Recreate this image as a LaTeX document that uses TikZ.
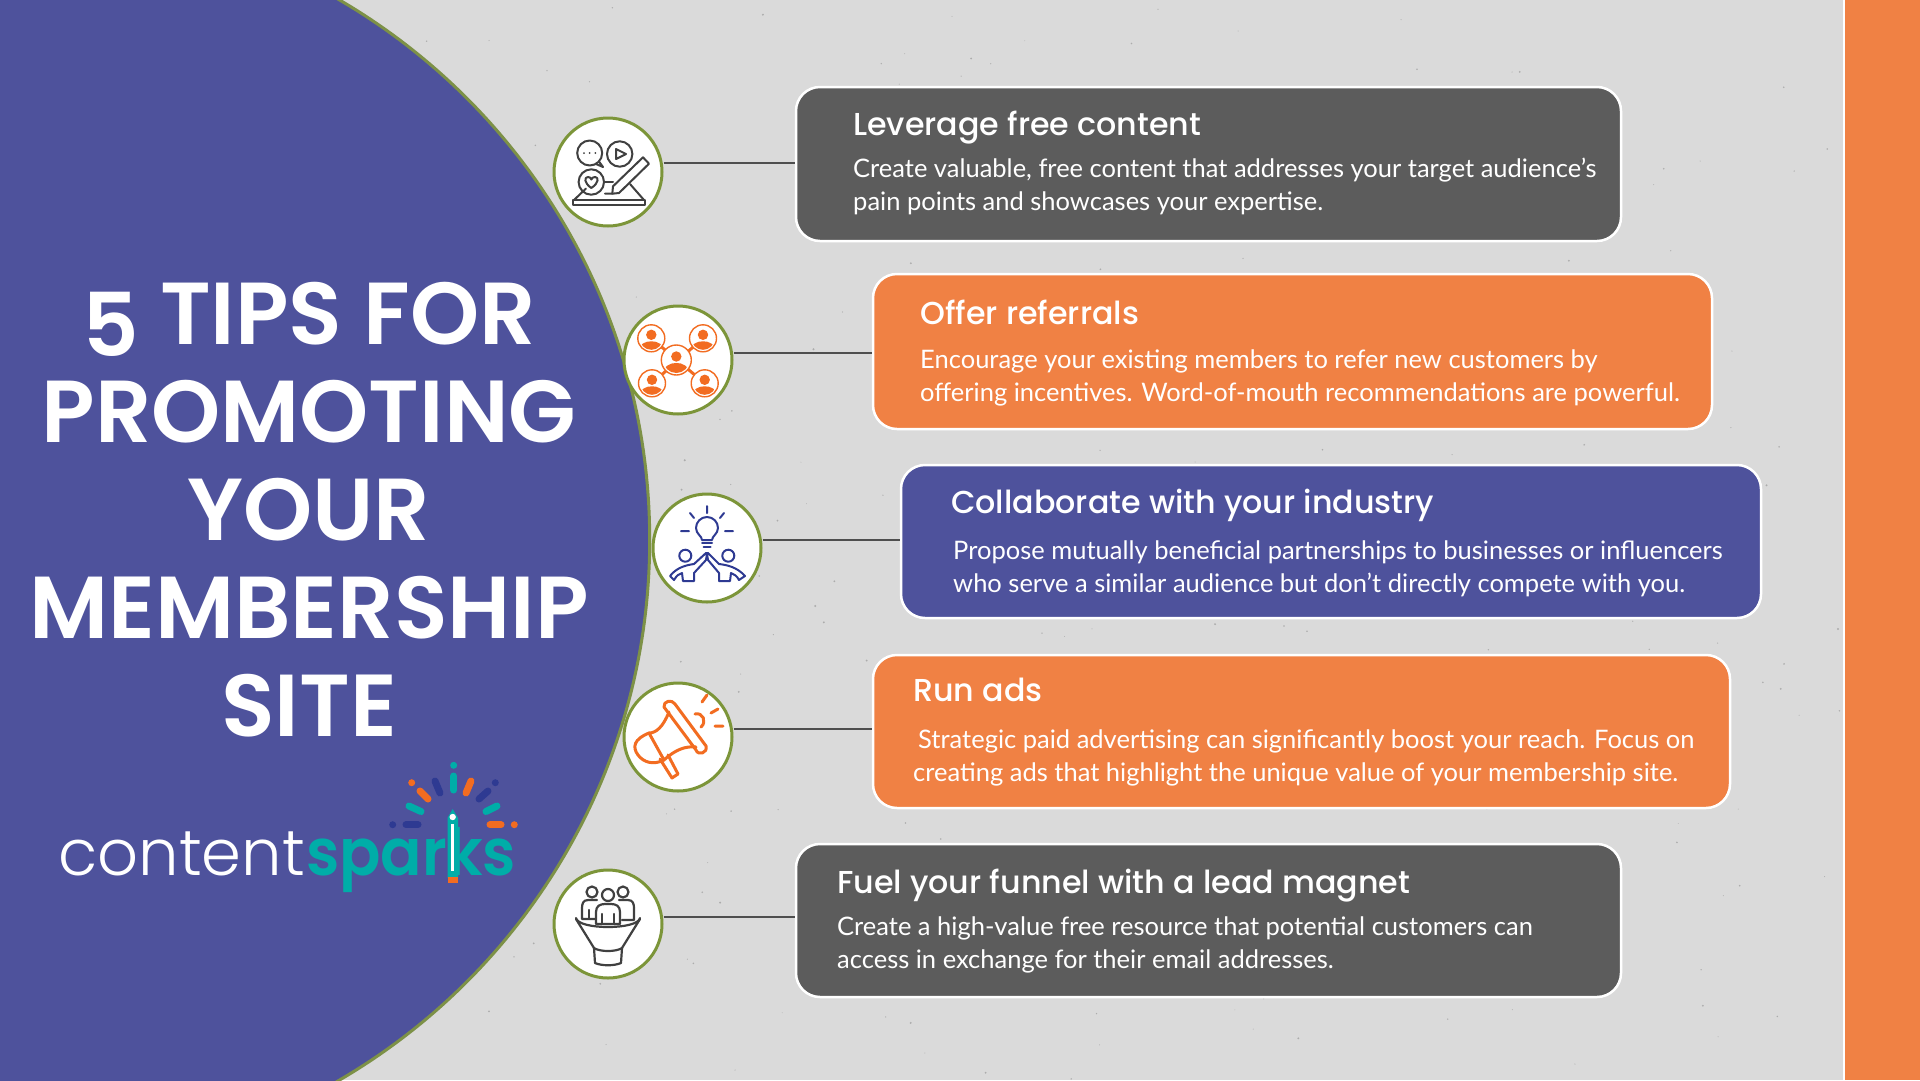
\documentclass[tikz,border=0pt]{standalone}
\usepackage{fontspec}
\setmainfont{Lato}
\newfontfamily\titlefont{Poppins SemiBold}
\newfontfamily\headfont{Poppins Medium}
\newfontfamily\logofont{Poppins Light}
\newfontfamily\sparkfont{Poppins SemiBold}
\definecolor{paper}{HTML}{DADADA}
\definecolor{violet}{HTML}{4E529C}
\definecolor{tangerine}{HTML}{F08144}
\definecolor{slate}{HTML}{5C5C5C}
\definecolor{moss}{HTML}{7C9539}
\definecolor{navy}{HTML}{2E3A92}
\definecolor{flame}{HTML}{F26C21}
\definecolor{ink}{HTML}{404040}
\definecolor{teal}{HTML}{00ADA8}
\tikzset{
  tipbox/.style={draw=white,line width=2.5pt,rounded corners=24pt,inner sep=0pt},
  iconring/.style={circle,draw=moss,fill=white,line width=3pt,minimum size=108pt,inner sep=0pt},
  stem/.style={draw=slate!85!black,line width=2pt},
  tiphead/.style={anchor=base west,text=white,inner sep=0pt,font=\headfont\fontsize{31.7}{32}\selectfont},
  tipbody/.style={anchor=base west,text=white,inner sep=0pt,align=left,font=\fontsize{25.5}{33}\selectfont},
  glyph/.style={line width=2pt,line cap=round,line join=round},
  spark/.style={line cap=round,line width=7pt},
}
\newcommand{\avatar}[3]{%
  \begin{scope}[shift={(#1,#2)}]
    \draw[flame,fill=white,line width=1.4pt] (0,0) circle[radius=#3];
    \begin{scope}
      \clip (0,0) circle[radius=#3-2];
      \fill[flame] (0,-3.5) circle[radius=5.2];
      \fill[flame] (-15,16) .. controls (-12,5) and (-6,3) .. (0,3) .. controls (6,3) and (12,5) .. (15,16) -- cycle;
    \end{scope}
  \end{scope}}
\begin{document}
\begin{tikzpicture}[x=1pt,y=-1pt]
  \useasboundingbox (0,0) rectangle (1920,1080);
  \fill[paper] (0,0) rectangle (1920,1080);
  \pgfmathsetseed{7}
  \foreach \i in {1,...,300}
    \fill[black!50,opacity=0.5] (340+rnd*1500,rnd*1080) circle[radius=0.4+rnd*0.7];

  % side band
  \fill[white] (1843,0) rectangle (1846,1080);
  \fill[tangerine] (1845,0) rectangle (1920,1080);

  % big disc
  \draw[fill=violet,draw=moss!80!gray,line width=3pt] (24.7,540) circle[radius=625];

  \node[anchor=base,text=white,inner sep=0pt,align=center,font=\titlefont\fontsize{88}{98}\selectfont] (title) at (309,736)
    {\raisebox{-12pt}{5} TIPS FOR\\PROMOTING\\YOUR\\MEMBERSHIP\\SITE};

  % logo
  \node[anchor=base west,text=white,inner sep=0pt,font=\logofont\fontsize{64}{64}\selectfont] (word) at (58,875) {content};
  \node[anchor=base west,text=teal,inner sep=0pt,xscale=0.94,font=\sparkfont\fontsize{65}{65}\selectfont] (sparks) at (306,875) {sparks};

  % boxes
  \node[tipbox,fill=slate,minimum width=825pt,minimum height=154pt] (box1) at (1208.5,164) {};
  \node[tipbox,fill=tangerine,minimum width=839pt,minimum height=155pt] (box2) at (1292.5,351.5) {};
  \node[tipbox,fill=violet,minimum width=860pt,minimum height=153pt] (box3) at (1331,541.5) {};
  \node[tipbox,fill=tangerine,minimum width=857pt,minimum height=153pt] (box4) at (1301.5,731.5) {};
  \node[tipbox,fill=slate,minimum width=825pt,minimum height=153pt] (box5) at (1208.5,920.5) {};

  \node[iconring] (icon1) at (608,172) {};
  \node[iconring] (icon2) at (678,360) {};
  \node[iconring] (icon3) at (707,548) {};
  \node[iconring] (icon4) at (678,737) {};
  \node[iconring] (icon5) at (608,924) {};

  \coordinate (port1) at ([yshift=1pt]box1.west);
  \coordinate (port2) at ([yshift=-1.5pt]box2.west);
  \coordinate (port3) at ([yshift=1.5pt]box3.west);
  \coordinate (port4) at ([yshift=2.5pt]box4.west);
  \coordinate (port5) at ([yshift=3.5pt]box5.west);
  \draw[stem] (icon1.east |- port1) -- (port1);
  \draw[stem] (icon2.east |- port2) -- (port2);
  \draw[stem] (icon3.east |- port3) -- (port3);
  \draw[stem] (icon4.east |- port4) -- (port4);
  \draw[stem] (icon5.east |- port5) -- (port5);

  % texts
  \node[tiphead] (head1) at (853,135) {Leverage free content};
  \node[tipbody] (body1) at (853,210) {Create valuable, free content that addresses your target audience's\\pain points and showcases your expertise.};
  \node[tiphead] (head2) at (920,324) {Offer referrals};
  \node[tipbody] (body2) at (920,401) {Encourage your existing members to refer new customers by\\offering incentives. Word-of-mouth recommendations are powerful.};
  \node[tiphead] (head3) at (951,513) {Collaborate with your industry};
  \node[tipbody] (body3) at (953,592) {Propose mutually beneficial partnerships to businesses or influencers\\who serve a similar audience but don't directly compete with you.};
  \node[tiphead] (head4) at (913,701) {Run ads};
  \node[tipbody] (body4) at (918,748) {Strategic paid advertising can significantly boost your reach. Focus on};
  \node[tipbody] (body4b) at (913,781) {creating ads that highlight the unique value of your membership site.};
  \node[tiphead] (head5) at (837,893) {Fuel your funnel with a lead magnet};
  \node[tipbody] (body5) at (837,968) {Create a high-value free resource that potential customers can\\access in exchange for their email addresses.};

  % icon 1
  \begin{scope}[shift={(icon1.center)},glyph,ink]
    \draw (-18.3,-19) circle[radius=12.5];
    \draw (-9,-10.5) -- (-5,-5) -- (-12,-8);
    \fill (-24,-19) circle[radius=1] (-18.3,-19) circle[radius=1] (-12.6,-19) circle[radius=1];
    \draw (11.7,-18) circle[radius=12.7];
    \draw (8,-23) -- (18,-18) -- (8,-13) -- cycle;
    \draw (-16.7,10) circle[radius=12.7];
    \draw (-16.7,16) .. controls (-24,11) and (-24,5) .. (-20,5) .. controls (-18,5) and (-17,6) .. (-16.7,7.5) .. controls (-16,6) and (-15,5) .. (-13,5) .. controls (-9,5) and (-9,11) .. (-16.7,16);
    \draw (-4,10) -- (5,10);
    \draw (35,-14.7) -- (41,-8.3) -- (11,21) -- (4.3,21.7) -- (5,14.3) -- cycle;
    \draw (-3,21.5) -- (4.3,21.7);
    \draw (-34,28) -- (-22,16.5);
    \draw (22,12) -- (36,28);
    \draw (-35,28) rectangle (37,32.5);
  \end{scope}

  % icon 2
  \begin{scope}[shift={(icon2.center)}]
    \draw[flame,line width=3pt] (-26.7,-21.7) -- (26.7,23.3) (25,-21.7) -- (-26,23.3);
    \avatar{-26.7}{-21.7}{13.5}
    \avatar{25}{-21.7}{13.5}
    \avatar{-26}{23.3}{13.5}
    \avatar{26.7}{23.3}{13.5}
    \avatar{-1.7}{0}{15}
  \end{scope}

  % icon 3
  \begin{scope}[shift={(icon3.center)},glyph,navy]
    \draw (-5,-8) .. controls (-5,-12) and (-11,-14) .. (-11,-20) arc[start angle=180,end angle=360,x radius=11,y radius=11] .. controls (11,-14) and (5,-12) .. (5,-8) -- cycle;
    \draw (-5,-5) -- (5,-5) (-3.5,-1.5) -- (3.5,-1.5);
    \draw (0,-42) -- (0,-35) (-17,-35) -- (-13,-30) (17,-35) -- (13,-30) (-26,-17) -- (-18,-17) (18,-17) -- (26,-17);
    \draw (-21.7,7.7) circle[radius=6] (21.3,7.7) circle[radius=6];
    \draw (-1,5) -- (-13,16) .. controls (-20,17) and (-30,19) .. (-37,28) -- (-33,32) .. controls (-30,27) and (-28,26) .. (-25,25) -- (-24,33) -- (-13,33) -- (-13,25) -- (-1,12) -- (0,6) -- (1,12) -- (12,25) -- (12,33) -- (23,33) -- (24,25) .. controls (27,26) and (30,28) .. (32,32) -- (38,28) .. controls (30,19) and (20,17) .. (12,16) -- (1,5) -- cycle;
  \end{scope}

  % icon 4
  \begin{scope}[shift={(icon4.center)},glyph,flame,line width=3pt]
    \draw (-3,-33) -- (28,9) .. controls (30,16) and (20,19) .. (18,13) -- (-14,-30) .. controls (-15,-36) and (-6,-38) .. (-3,-33);
    \draw (-9,-25) .. controls (-15,-10) and (-22,-4) .. (-29,-4) -- (-14,23) .. controls (-2,12) and (8,9) .. (18,10);
    \draw (-29,-4) .. controls (-44,2) and (-46,10) .. (-40,18) .. controls (-34,26) and (-24,28) .. (-14,23);
    \draw (-18,22) -- (-6,41) -- (0,37) -- (-10,18);
    \draw (17,-23) .. controls (25,-25) and (29,-15) .. (23,-10);
    \draw (24,-35) -- (29,-42) (33,-24) -- (40,-28) (37,-11) -- (45,-11);
  \end{scope}

  % icon 5
  \begin{scope}[shift={(icon5.center)},glyph,ink,line width=2.2pt]
    \draw (-16,-32) circle[radius=5.5] (0,-29) circle[radius=6] (15,-32) circle[radius=5.5];
    \draw (-11,-24) -- (-20,-24) .. controls (-25,-24) and (-26,-20) .. (-26,-16) -- (-26,-5) -- (-13,-5);
    \draw (-19,-14) -- (-19,-6);
    \draw (11,-24) -- (20,-24) .. controls (25,-24) and (26,-20) .. (26,-16) -- (26,-4) -- (14,-4);
    \draw (-12,0) -- (-12,-12) .. controls (-12,-18) and (-8,-20) .. (-3,-20) -- (3,-20) .. controls (8,-20) and (12,-18) .. (12,-12) -- (12,0) -- cycle;
    \draw (-6,-10) -- (-6,-1) (6,-10) -- (6,-1);
    \draw (-32,-6) .. controls (-30,6) and (30,6) .. (32,-6);
    \draw (-32,-5) -- (-14,24) .. controls (-8,28) and (8,28) .. (14,24) -- (32,-5);
    \draw (-14,24) -- (-13,39) .. controls (-6,42) and (6,42) .. (13,39) -- (14,24);
  \end{scope}

  % pencil and sparks of the logo
  \fill[teal] (447.5,818) -- (452.7,809) -- (458,818) -- (458,878) -- (447.5,878) -- cycle;
  \fill[white] (452.7,817) circle[radius=3.2];
  \fill[white] (451,824) rectangle (454.4,871);
  \fill[flame] (447.5,877) rectangle (458,883);
  \fill[teal] (453.7,765.3) circle[radius=3.5];
  \draw[spark,teal] (453.7,776) -- (453.7,790);
  \draw[spark,flame] (471,781) -- (466,793);
  \draw[spark,navy] (435,781) -- (440,793);
  \fill[flame] (411.7,782.7) circle[radius=3.5];
  \draw[spark,flame] (420,791) -- (428,799);
  \fill[navy] (495.3,782.7) circle[radius=3.5];
  \draw[spark,navy] (488,791) -- (479,799);
  \draw[spark,teal] (409,806) -- (421,811.5);
  \draw[spark,teal] (497,806) -- (486,811.5);
  \fill[navy] (392.7,824.7) circle[radius=3.5];
  \draw[spark,navy] (406,824.7) -- (418,824.7);
  \draw[spark,flame] (490,824.7) -- (501,824.7);
  \fill[flame] (514.3,824.7) circle[radius=3.5];
\end{tikzpicture}
\end{document}
